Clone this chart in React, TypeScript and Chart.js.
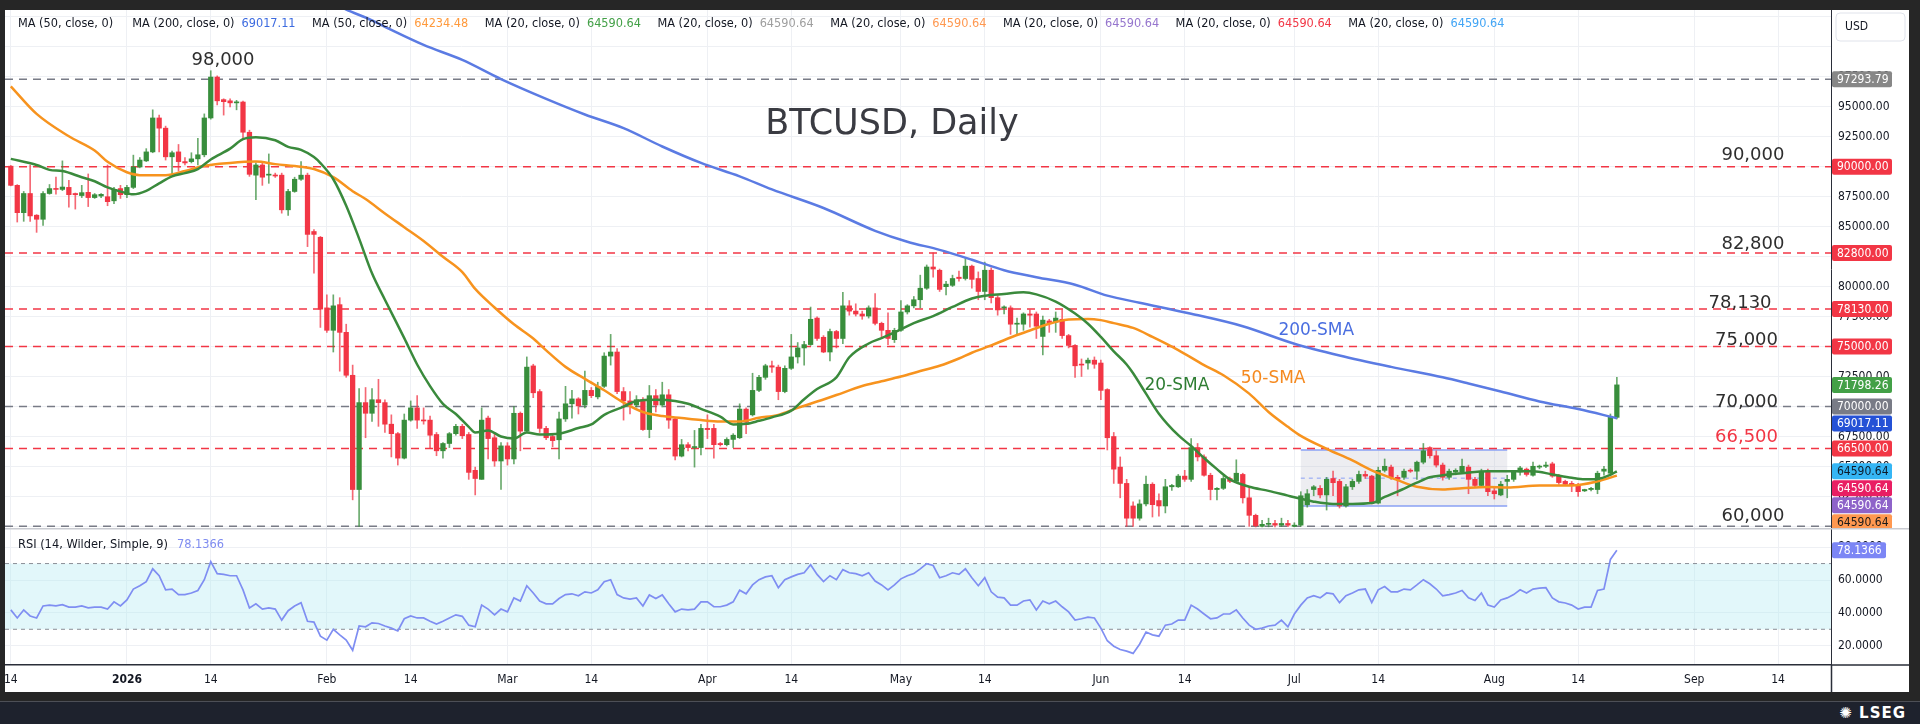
import React, { useEffect, useRef } from 'react';
import { Chart, registerables } from 'chart.js';

Chart.register(...registerables);

// Day index 0 = 1 Jan 2026; first candle is 14 Dec 2025
const FIRST_DAY = -18;

const OPEN = [
  90040, 88440, 86160, 87760, 85950, 85610, 87760, 88170, 88100, 88270,
  87760, 87590, 87860, 87420, 87550, 87490, 87150, 88170, 87660, 88270,
  89970, 90480, 91230, 94060, 93210, 90820, 91230, 90420, 90420, 90650,
  90990, 94060, 97470, 95590, 95490, 95320, 95390, 92870, 89290, 90140,
  89290, 89290, 89290, 86400, 87930, 88950, 89290, 84590, 84110, 78220,
  76350, 78490, 76180, 72600, 63070, 70320, 69430, 70560, 70320, 68520,
  67730, 65690, 68860, 69880, 68860, 68860, 67660, 66300, 66910, 67730,
  68340, 67660, 64670, 63920, 69030, 67390, 65450, 66710, 65620, 69430,
  67940, 73380, 71240, 68170, 67490, 67220, 68960, 70220, 70630, 70120,
  71340, 70800, 71680, 74200, 74540, 71240, 70460, 70120, 70560, 68070,
  70900, 70120, 70970, 68960, 65860, 66810, 66570, 66570, 68170, 68170,
  66910, 66810, 67250, 67390, 69780, 69300, 71340, 72430, 73390, 73280,
  71240, 73180, 74130, 74880, 75160, 77370, 75770, 74540, 76250, 75670,
  78390, 77950, 77710, 77540, 78220, 76930, 76350, 75570, 76350, 77880,
  78390, 78900, 79860, 81630, 81360, 79990, 80100, 80780, 80670, 81700,
  80670, 79590, 81360, 79070, 78220, 78220, 76860, 76860, 77710, 77710,
  75840, 77130, 77030, 77270, 75910, 75090, 73520, 73620, 73860, 73620,
  71410, 67490, 64940, 63580, 61700, 60680, 61870, 63510, 62150, 61700,
  63300, 63300, 64190, 63920, 66570, 65790, 64260, 63070, 63170, 63990,
  63750, 64330, 62380, 60920, 60000, 60170, 60240, 60100, 60240, 60000,
  60100, 61800, 63070, 63170, 62620, 63990, 63750, 61700, 63300, 63750,
  64330, 64190, 61940, 64670, 64940, 64090, 64090, 64670, 64600, 65350,
  66570, 65890, 65110, 64090, 64530, 64530, 64940, 63920, 63410, 64600,
  62960, 62620, 63750, 63920, 64530, 64770, 64260, 64940, 65010, 65210,
  64190, 63750, 63580, 63410, 62960, 63070, 63070, 64600, 64430, 69090,
];

const HIGH = [
  90100, 88500, 87930, 90140, 86000, 87930, 88510, 89120, 90480, 88850,
  87800, 88440, 89390, 87760, 87760, 90140, 88270, 88440, 88440, 90960,
  90760, 91500, 94740, 94300, 93380, 91300, 91850, 90760, 91160, 92360,
  94400, 98000, 97570, 95660, 95660, 95530, 95460, 93040, 90310, 90310,
  91060, 89460, 89460, 88100, 89120, 90420, 89460, 84760, 84180, 79310,
  79310, 79070, 76860, 73450, 71480, 71580, 71480, 72260, 70560, 69300,
  67830, 69370, 70460, 70900, 69880, 69200, 67830, 66980, 67830, 68510,
  68510, 67830, 64940, 69880, 69200, 67830, 66980, 66980, 69980, 69540,
  74130, 73520, 71410, 68340, 67660, 69540, 71680, 71340, 70730, 72940,
  71580, 72020, 74480, 76010, 74820, 71580, 71240, 70900, 70730, 71750,
  71410, 72020, 71410, 69030, 67250, 66980, 68000, 68510, 69300, 68510,
  67000, 67390, 67730, 70220, 69880, 72770, 72600, 73520, 73790, 73450,
  73390, 76010, 75330, 75430, 78290, 77470, 75910, 76450, 76350, 79520,
  78830, 78560, 77950, 78390, 79410, 77030, 77810, 76520, 78830, 78490,
  79170, 80950, 81800, 82820, 81460, 80440, 80950, 81290, 82380, 81800,
  81220, 82040, 81560, 79240, 78390, 78390, 77370, 77810, 78050, 77880,
  77540, 77270, 77880, 78050, 76010, 75160, 73960, 74030, 74130, 73860,
  71480, 67830, 65790, 63920, 62040, 62210, 64190, 63640, 62720, 63920,
  63500, 64330, 64670, 67320, 66910, 65960, 64430, 63240, 64190, 64100,
  65550, 64430, 63240, 61020, 60510, 60680, 60500, 60680, 60500, 60300,
  62890, 63070, 63410, 63410, 64090, 64600, 63920, 63510, 63920, 64600,
  64600, 64260, 64940, 65620, 65110, 64260, 64770, 64800, 65450, 66910,
  66640, 66300, 65280, 64770, 64800, 65620, 65110, 64090, 64770, 64770,
  63240, 63750, 64260, 64670, 65010, 64870, 65350, 65110, 65350, 65350,
  64330, 63850, 63750, 63580, 63100, 63250, 64600, 65010, 69370, 72430,
];

const LOW = [
  88400, 85380, 85440, 85440, 84520, 85100, 87700, 87700, 88000, 86630,
  86460, 87420, 86670, 87350, 87420, 86740, 86910, 87350, 87420, 88170,
  89900, 90420, 91160, 91230, 90550, 89390, 89630, 90140, 90310, 90140,
  90820, 93960, 95150, 94300, 94980, 94740, 92250, 89190, 87250, 88440,
  88610, 89100, 86120, 85940, 87860, 88850, 83330, 81120, 76590, 76180,
  74540, 72940, 72430, 62210, 60000, 67390, 68750, 68340, 67830, 65790,
  65110, 65620, 68770, 68170, 68520, 66570, 65890, 65690, 66570, 67600,
  67320, 63920, 62620, 63920, 65620, 65010, 63070, 65110, 65210, 66300,
  67830, 70730, 67830, 67220, 66640, 65620, 68750, 69030, 69370, 69880,
  70730, 70630, 71580, 73450, 71070, 68860, 69370, 69950, 68000, 67390,
  69540, 69950, 68170, 65550, 65790, 66300, 64940, 65960, 67320, 65690,
  66700, 66710, 66570, 67320, 67730, 69200, 71240, 72260, 72840, 70560,
  71140, 73080, 73620, 73450, 75090, 75500, 74480, 73790, 74880, 75230,
  77610, 77540, 77270, 77370, 76790, 75770, 75160, 75330, 76250, 77710,
  78220, 78220, 79760, 80780, 79590, 79310, 80000, 80440, 80540, 79860,
  78900, 78900, 78630, 77610, 77710, 76010, 76060, 76350, 76620, 75670,
  74300, 76180, 76180, 75670, 74880, 72430, 72500, 73110, 73180, 70560,
  66370, 63580, 62380, 60000, 60000, 60510, 61700, 60780, 60850, 61120,
  63000, 63240, 63750, 63750, 65450, 64190, 62210, 62210, 63070, 63650,
  63650, 61940, 60000, 59950, 59950, 59960, 59960, 59980, 59980, 59960,
  60000, 61600, 62550, 62380, 61360, 62550, 61530, 61600, 63070, 63580,
  64000, 61870, 61870, 64530, 63920, 62550, 63920, 64500, 63920, 65210,
  65690, 64940, 63850, 63920, 64300, 64430, 62720, 63240, 63240, 62550,
  62280, 62550, 62380, 63750, 64260, 64190, 64190, 64800, 64900, 64090,
  63510, 63400, 62890, 62490, 62900, 62950, 62720, 64260, 64330, 68960,
];

const CLOSE = [
  88440, 86160, 87760, 85890, 85610, 87760, 88170, 88100, 88300, 87660,
  87660, 87830, 87420, 87660, 87690, 87080, 88100, 87660, 88270, 89970,
  90550, 91230, 94060, 93210, 90820, 91160, 90420, 90310, 90650, 90990,
  94060, 97470, 95490, 95420, 95320, 95390, 92870, 89360, 90140, 89120,
  89360, 89220, 86400, 87930, 88950, 89290, 84350, 84350, 78120, 76350,
  78390, 76180, 72600, 63070, 70320, 69430, 70560, 70320, 68520, 67730,
  65690, 68860, 69880, 68860, 68790, 67600, 66300, 66910, 67730, 68340,
  67560, 64500, 63990, 68860, 67320, 65450, 66710, 65620, 69430, 67940,
  73280, 71140, 68170, 67390, 67150, 68960, 70220, 70630, 70050, 71340,
  70900, 71680, 74200, 74540, 71240, 70460, 70120, 70560, 68070, 70900,
  70120, 70970, 68860, 65860, 66810, 66570, 66640, 68170, 68070, 66810,
  66810, 67250, 67600, 69780, 68690, 71340, 72430, 73390, 73280, 71240,
  73180, 74130, 74880, 75160, 77270, 75670, 74540, 76250, 75670, 78390,
  77950, 77710, 77540, 78220, 76930, 76350, 75670, 76350, 77880, 78390,
  78900, 79860, 81630, 81460, 79760, 80200, 80670, 80670, 81700, 80600,
  79590, 81360, 79070, 78050, 78290, 76860, 76930, 77710, 77610, 76690,
  77200, 76930, 77370, 75910, 75090, 73390, 73450, 73860, 73520, 71340,
  67390, 64770, 63580, 60680, 60680, 61870, 63510, 61810, 61700, 63300,
  63410, 64190, 63920, 66570, 65790, 64260, 63070, 63170, 63990, 63750,
  64430, 62380, 60920, 60050, 60170, 60240, 60100, 60240, 60100, 60100,
  62550, 62720, 63300, 62620, 63920, 63640, 61700, 63300, 63750, 64330,
  64190, 61940, 64670, 65010, 64090, 63920, 64600, 64600, 65350, 66300,
  65890, 65110, 64090, 64600, 64670, 65010, 63920, 63410, 64530, 62890,
  62720, 63510, 63920, 64530, 64870, 64330, 65010, 65010, 65110, 64190,
  63650, 63510, 63410, 62890, 63070, 63170, 64430, 64770, 69090, 71798.26,
];

const RSI = [
  41.8, 36.9, 41.8, 38.1, 36.9, 44.2, 44.7, 44.2, 45.0, 43.5,
  43.5, 44.2, 43.0, 43.5, 43.5, 42.3, 46.7, 44.2, 47.9, 54.5,
  56.5, 59.0, 66.8, 62.6, 54.0, 54.5, 51.1, 51.1, 52.1, 53.6,
  60.2, 71.2, 63.9, 63.4, 62.6, 62.6, 54.0, 43.0, 45.5, 42.3,
  43.0, 42.3, 35.6, 41.3, 44.2, 46.2, 34.9, 34.4, 25.8, 23.4,
  30.0, 26.6, 23.4, 17.2, 32.0, 31.5, 33.9, 33.5, 32.0, 30.7,
  29.0, 36.4, 38.1, 36.9, 36.9, 34.9, 33.2, 34.9, 36.9, 38.8,
  37.9, 32.5, 31.5, 44.7, 42.3, 38.8, 42.3, 40.6, 49.1, 47.2,
  56.5, 52.1, 47.2, 45.5, 45.5, 48.7, 51.1, 51.6, 50.4, 52.8,
  52.1, 54.0, 59.0, 60.2, 51.1, 49.1, 48.4, 49.1, 44.2, 50.9,
  48.7, 50.9, 45.5, 40.6, 42.3, 41.8, 42.3, 46.7, 46.7, 43.7,
  43.7, 44.7, 46.7, 53.8, 51.6, 57.0, 60.2, 61.9, 62.6, 55.3,
  60.2, 61.9, 63.4, 64.4, 69.3, 63.4, 59.0, 62.6, 60.2, 66.3,
  64.4, 63.9, 62.6, 64.4, 59.4, 57.0, 54.0, 57.0, 60.7, 62.6,
  63.9, 66.8, 70.0, 68.8, 61.4, 62.6, 64.4, 63.4, 66.8, 61.4,
  56.5, 61.4, 52.8, 49.6, 49.1, 44.7, 44.7, 47.2, 47.9, 41.8,
  47.2, 45.5, 47.2, 43.7, 40.6, 35.6, 36.4, 37.4, 36.9, 30.7,
  23.0, 19.7, 17.7, 16.7, 15.3, 20.9, 28.3, 26.6, 25.8, 32.5,
  33.2, 35.6, 35.6, 44.7, 42.3, 39.3, 36.4, 36.9, 39.3, 39.3,
  41.8, 36.9, 32.5, 30.0, 30.7, 32.0, 32.5, 35.6, 31.5, 39.3,
  44.7, 49.1, 50.4, 49.1, 52.1, 51.6, 46.2, 50.4, 52.1, 54.0,
  54.5, 46.2, 54.0, 56.0, 52.8, 52.8, 54.5, 54.0, 57.0, 60.2,
  57.7, 54.5, 50.4, 51.1, 52.1, 53.6, 49.1, 47.5, 52.1, 44.8,
  43.5, 47.9, 49.1, 51.1, 54.0, 52.1, 54.5, 55.0, 55.3, 49.1,
  46.7, 46.0, 44.7, 42.3, 43.5, 43.5, 53.6, 54.5, 72.5, 78.1366,
];

// Moving averages at sample days
const MA20_DAYS = [-18, -14, -12, -10, -7, -5, -3, -1, 1, 3, 5, 7, 9, 11, 13, 16, 18, 20, 23, 25, 27, 29, 30, 32, 34, 36, 38, 40, 43, 45, 47, 49, 51, 53, 54, 56, 58, 60, 62, 64, 67, 70, 72, 74, 77, 79, 82, 85, 87, 89, 92, 94, 96, 98, 100, 103, 105, 107, 110, 112, 115, 117, 119, 122, 125, 128, 131, 133, 136, 139, 141, 144, 147, 149, 151, 153, 155, 156, 158, 160, 163, 165, 167, 169, 171, 174, 177, 180, 182, 184, 187, 190, 193, 195, 197, 200, 202, 204, 207, 211, 214, 218, 221, 224, 226, 228, 230, 231];
const MA20 = [90650, 90140, 89730, 89630, 89120, 88780, 88270, 87930, 87690, 87980, 88610, 89190, 89460, 89800, 90600, 91500, 92300, 92460, 92200, 91650, 91400, 90800, 90300, 88950, 86740, 84000, 81100, 78900, 75700, 73500, 71700, 70220, 69370, 68300, 67830, 68000, 67490, 67320, 67830, 67660, 67730, 68200, 68500, 69300, 69980, 70460, 70560, 70460, 70220, 69800, 69150, 68500, 68550, 68800, 69090, 69650, 70600, 71450, 72430, 74100, 75250, 75700, 76180, 76950, 77540, 78300, 79000, 79240, 79380, 79520, 79350, 78750, 77750, 76900, 75800, 74600, 73500, 72770, 71070, 69400, 67600, 66700, 65700, 64770, 63920, 63300, 62960, 62560, 62300, 62060, 61870, 61870, 61940, 62450, 62900, 63640, 64090, 64260, 64430, 64600, 64600, 64600, 64330, 64050, 63920, 63950, 64300, 64590.64];

const MA50_DAYS = [-18, -14, -9, -5, -3, 0, 2, 6, 9, 12, 16, 20, 23, 27, 29, 32, 35, 37, 40, 43, 46, 49, 52, 54, 57, 60, 63, 65, 68, 71, 74, 77, 80, 83, 86, 89, 92, 95, 98, 101, 104, 108, 110, 114, 117, 120, 123, 126, 129, 131, 134, 137, 140, 143, 146, 149, 151, 153, 156, 159, 163, 167, 170, 174, 177, 180, 182, 186, 190, 193, 197, 200, 204, 207, 211, 214, 219, 224, 228, 231];
const MA50 = [96700, 94400, 92530, 91340, 90400, 89530, 89290, 89290, 89630, 90070, 90310, 90420, 90210, 90000, 89800, 89120, 87950, 87300, 86100, 84950, 83800, 82480, 81200, 79800, 78250, 76850, 75670, 74680, 73300, 72300, 71350, 70320, 69540, 69200, 69030, 68860, 68750, 68750, 69050, 69300, 69880, 70580, 70950, 71700, 72100, 72500, 72950, 73390, 74000, 74480, 75090, 75750, 76330, 76900, 77250, 77300, 77200, 76950, 76550, 75800, 74700, 73450, 72600, 71070, 69540, 68300, 67550, 66470, 65500, 64670, 63850, 63300, 63070, 63170, 63280, 63240, 63410, 63410, 63750, 64234.48];

const MA200_DAYS = [30, 34, 38, 41, 46, 52, 58, 65, 71, 77, 83, 89, 95, 100, 108, 116, 121, 126, 131, 136, 141, 147, 152, 157, 165, 173, 181, 188, 196, 204, 208, 213, 219, 225, 231];
const MA200 = [104100, 103100, 102200, 101400, 100150, 98900, 97300, 95650, 94350, 93210, 91680, 90310, 89190, 88100, 86550, 84650, 83740, 83060, 82240, 81360, 80780, 80150, 79240, 78650, 77730, 76690, 75230, 74250, 73300, 72430, 71920, 71250, 70420, 69780, 69017.11];

// Horizontal levels
const LEVELS = [97293.79, 90000, 82800, 78130, 75000, 70000, 66500, 60000];
const LEVEL_KINDS = ['gray', 'red', 'red', 'red', 'red', 'gray', 'red', 'gray'];

// Consolidation box (days and prices)
const BOX_DAYS = [182, 214];
const BOX_PRICES = [66370, 61700];
const BOX_MID = 64020;

// X-axis ticks
const TICK_DAYS = [-18, 0, 13, 31, 44, 59, 72, 90, 103, 120, 133, 151, 164, 181, 194, 212, 225, 243, 256];
const TICK_LABELS = ['14', '2026', '14', 'Feb', '14', 'Mar', '14', 'Apr', '14', 'May', '14', 'Jun', '14', 'Jul', '14', 'Aug', '14', 'Sep', '14'];
const PRICE_TICKS = [60000, 62500, 65000, 67500, 70000, 72500, 75000, 77500, 80000, 82500, 85000, 87500, 90000, 92500, 95000, 97500, 100000, 102500];
const RSI_TICKS = [20, 40, 60, 80];

// Text annotations on the price pane
const ANNOTATIONS = [
  { text: '98,000', day: 14.9, price: 98840, color: '#2e2e2e', size: 18 },
  { text: '90,000', day: 252.1, price: 90930, color: '#2e2e2e', size: 18 },
  { text: '82,800', day: 252.1, price: 83490, color: '#2e2e2e', size: 18 },
  { text: '78,130', day: 250.1, price: 78580, color: '#2e2e2e', size: 18 },
  { text: '75,000', day: 251.1, price: 75500, color: '#2e2e2e', size: 18 },
  { text: '70,000', day: 251.1, price: 70360, color: '#2e2e2e', size: 18 },
  { text: '66,500', day: 251.1, price: 67440, color: '#f23645', size: 18 },
  { text: '60,000', day: 252.1, price: 60830, color: '#2e2e2e', size: 18 },
  { text: '200-SMA', day: 184.4, price: 76320, color: '#4a6ee0', size: 17 },
  { text: '50-SMA', day: 177.7, price: 72310, color: '#f5891f', size: 17 },
  { text: '20-SMA', day: 162.8, price: 71720, color: '#2e7d32', size: 17 },
];

const LEGEND = [
  { label: 'MA (50, close, 0)', value: '', color: '#131722' },
  { label: 'MA (200, close, 0)', value: '69017.11', color: '#3d6be0' },
  { label: 'MA (50, close, 0)', value: '64234.48', color: '#ff9a3c' },
  { label: 'MA (20, close, 0)', value: '64590.64', color: '#43a047' },
  { label: 'MA (20, close, 0)', value: '64590.64', color: '#9e9e9e' },
  { label: 'MA (20, close, 0)', value: '64590.64', color: '#ff9850' },
  { label: 'MA (20, close, 0)', value: '64590.64', color: '#9575cd' },
  { label: 'MA (20, close, 0)', value: '64590.64', color: '#f23645' },
  { label: 'MA (20, close, 0)', value: '64590.64', color: '#42a5f5' },
];

const PRICE_LABELS = [
  { value: 97293.79, text: '97293.79', bg: '#878787', fg: '#ffffff' },
  { value: 90000, text: '90000.00', bg: '#f23645', fg: '#ffffff' },
  { value: 82800, text: '82800.00', bg: '#f23645', fg: '#ffffff' },
  { value: 78130, text: '78130.00', bg: '#f23645', fg: '#ffffff' },
  { value: 75000, text: '75000.00', bg: '#f23645', fg: '#ffffff' },
  { value: 71798.26, text: '71798.26', bg: '#43a047', fg: '#ffffff' },
  { value: 70000, text: '70000.00', bg: '#787b86', fg: '#ffffff' },
  { value: 69017.11, text: '69017.11', bg: '#2451d6', fg: '#ffffff' },
  { value: 66500, text: '66500.00', bg: '#f23645', fg: '#ffffff' },
  { value: 64590.64, text: '64590.64', bg: '#35b6f5', fg: '#0d1b2a' },
  { value: 64590.64, text: '64590.64', bg: '#e91e63', fg: '#ffffff' },
  { value: 64590.64, text: '64590.64', bg: '#8e63c9', fg: '#ffffff' },
  { value: 64590.64, text: '64590.64', bg: '#ff9850', fg: '#1a1a1a' },
];

const RSI_LAST = 78.1366;

const X_MIN = -18.9;
const X_MAX = 264.2;
const PRICE_MIN = 59862;
const PRICE_MAX = 103065;
const RSI_MIN = 8.25;
const RSI_MAX = 91.66;

const GREEN = '#388e3c';
const RED = '#f23645';
const SMALL_FONT = '"DejaVu Sans Condensed", "Liberation Sans Narrow", "DejaVu Sans", sans-serif';
const BIG_FONT = '"DejaVu Sans", Verdana, sans-serif';
const GRID = '#eef0f4';
const AXIS = '#2a2e39';

const fixPadding = (s: any) => {
  s.paddingLeft = 0;
  s.paddingRight = 0;
  s.paddingTop = 0;
  s.paddingBottom = 0;
};

function roundRect(ctx: CanvasRenderingContext2D, x: number, y: number, w: number, h: number, r: number) {
  ctx.beginPath();
  ctx.moveTo(x + r, y);
  ctx.lineTo(x + w - r, y);
  ctx.quadraticCurveTo(x + w, y, x + w, y + r);
  ctx.lineTo(x + w, y + h - r);
  ctx.quadraticCurveTo(x + w, y + h, x + w - r, y + h);
  ctx.lineTo(x + r, y + h);
  ctx.quadraticCurveTo(x, y + h, x, y + h - r);
  ctx.lineTo(x, y + r);
  ctx.quadraticCurveTo(x, y, x + r, y);
  ctx.closePath();
}

const pricePlugin = {
  id: 'priceOverlays',
  beforeDatasetsDraw(chart: any) {
    const { ctx, scales } = chart;
    const x = scales.x;
    const y = scales.y;
    const x0 = x.getPixelForValue(BOX_DAYS[0]);
    const x1 = x.getPixelForValue(BOX_DAYS[1]);
    const yt = y.getPixelForValue(BOX_PRICES[0]);
    const yb = y.getPixelForValue(BOX_PRICES[1]);
    const ym = y.getPixelForValue(BOX_MID);
    ctx.save();
    ctx.fillStyle = 'rgba(190,192,204,0.28)';
    ctx.fillRect(x0, yt, x1 - x0, yb - yt);
    ctx.strokeStyle = '#8ba1f5';
    ctx.lineWidth = 1.5;
    ctx.beginPath();
    ctx.moveTo(x0, yt);
    ctx.lineTo(x1, yt);
    ctx.moveTo(x0, yb);
    ctx.lineTo(x1, yb);
    ctx.stroke();
    ctx.setLineDash([4, 4]);
    ctx.lineWidth = 1;
    ctx.beginPath();
    ctx.moveTo(x0, ym);
    ctx.lineTo(x1, ym);
    ctx.stroke();
    ctx.restore();
  },
  afterDatasetsDraw(chart: any) {
    const { ctx, scales } = chart;
    const x = scales.x;
    const y = scales.y;
    ctx.save();
    ctx.textAlign = 'center';
    ctx.textBaseline = 'middle';
    for (const a of ANNOTATIONS) {
      ctx.font = `${a.size}px ${BIG_FONT}`;
      ctx.fillStyle = a.color;
      ctx.fillText(a.text, x.getPixelForValue(a.day), y.getPixelForValue(a.price));
    }
    // title
    ctx.font = `35px ${BIG_FONT}`;
    ctx.fillStyle = '#3a3b42';
    ctx.fillText('BTCUSD, Daily', 887, 115);
    // legend
    ctx.textAlign = 'left';
    ctx.font = `12.6px ${SMALL_FONT}`;
    let cx = 13;
    for (const item of LEGEND) {
      ctx.fillStyle = '#131722';
      ctx.fillText(item.label, cx, 14);
      cx += ctx.measureText(item.label).width;
      if (item.value) {
        cx += 7;
        ctx.fillStyle = item.color;
        ctx.fillText(item.value, cx, 14);
        cx += ctx.measureText(item.value).width;
        cx += 16.5;
      } else {
        cx += 19;
      }
    }
    ctx.restore();
  },
  afterDraw(chart: any) {
    const { ctx, scales, chartArea, width } = chart;
    const y = scales.y;
    const H = 16;
    let lastBottom = -Infinity;
    ctx.save();
    ctx.font = `12px ${SMALL_FONT}`;
    ctx.textBaseline = 'middle';
    ctx.textAlign = 'left';
    for (const l of PRICE_LABELS) {
      const yc = y.getPixelForValue(l.value);
      let top = yc - H / 2;
      if (top < lastBottom + 1) top = lastBottom + 1;
      lastBottom = top + H;
      ctx.fillStyle = l.bg;
      roundRect(ctx, chartArea.right + 1, top, 60, H, 2);
      ctx.fill();
      ctx.fillStyle = l.fg;
      ctx.fillText(l.text, chartArea.right + 6, top + H / 2 + 0.5);
    }
    // USD box
    ctx.fillStyle = '#ffffff';
    roundRect(ctx, chartArea.right + 5, 3, width - chartArea.right - 9, 28, 4);
    ctx.fill();
    ctx.strokeStyle = '#e0e3eb';
    ctx.lineWidth = 1;
    ctx.stroke();
    ctx.fillStyle = '#131722';
    ctx.fillText('USD', chartArea.right + 14, 17);
    ctx.restore();
  },
};

const rsiPlugin = {
  id: 'rsiOverlays',
  beforeDatasetsDraw(chart: any) {
    const { ctx, scales, chartArea } = chart;
    const y = scales.y;
    const y70 = y.getPixelForValue(70);
    const y30 = y.getPixelForValue(30);
    ctx.save();
    ctx.fillStyle = 'rgba(178,235,242,0.38)';
    ctx.fillRect(chartArea.left, y70, chartArea.right - chartArea.left, y30 - y70);
    ctx.strokeStyle = '#8a8d96';
    ctx.lineWidth = 1;
    ctx.setLineDash([4, 4]);
    ctx.beginPath();
    ctx.moveTo(chartArea.left, y70);
    ctx.lineTo(chartArea.right, y70);
    ctx.moveTo(chartArea.left, y30);
    ctx.lineTo(chartArea.right, y30);
    ctx.stroke();
    ctx.restore();
  },
  afterDraw(chart: any) {
    const { ctx, scales, chartArea, width, height } = chart;
    const y = scales.y;
    ctx.save();
    // separators
    ctx.strokeStyle = '#c9cbd1';
    ctx.lineWidth = 1.5;
    ctx.beginPath();
    ctx.moveTo(0, 0.75);
    ctx.lineTo(width, 0.75);
    ctx.stroke();
    ctx.strokeStyle = AXIS;
    ctx.lineWidth = 1.5;
    ctx.beginPath();
    ctx.moveTo(chartArea.right, chartArea.bottom);
    ctx.lineTo(width, chartArea.bottom);
    ctx.moveTo(chartArea.right + 0.5, chartArea.bottom);
    ctx.lineTo(chartArea.right + 0.5, height);
    ctx.stroke();
    // legend
    ctx.font = `12.7px ${SMALL_FONT}`;
    ctx.textBaseline = 'middle';
    ctx.textAlign = 'left';
    ctx.fillStyle = '#131722';
    const lbl = 'RSI (14, Wilder, Simple, 9)';
    ctx.fillText(lbl, 13, 17);
    ctx.fillStyle = '#7f8cf0';
    ctx.fillText(RSI_LAST.toFixed(4), 13 + ctx.measureText(lbl).width + 9, 17);
    // last value label
    const yc = y.getPixelForValue(RSI_LAST);
    ctx.font = `12px ${SMALL_FONT}`;
    ctx.fillStyle = '#7c86f5';
    roundRect(ctx, chartArea.right + 1, yc - 8, 54, 16, 2);
    ctx.fill();
    ctx.fillStyle = '#ffffff';
    ctx.fillText(RSI_LAST.toFixed(4), chartArea.right + 6, yc + 0.5);
    ctx.restore();
  },
};

function priceConfig(): any {
  const days = OPEN.map((_, i) => FIRST_DAY + i);
  const up = (i: number) => CLOSE[i] >= OPEN[i];
  const levelSets = LEVELS.map((lv, k) => ({
    type: 'line',
    data: [{ x: X_MIN, y: lv }, { x: X_MAX, y: lv }],
    borderColor: LEVEL_KINDS[k] === 'red' ? RED : '#787b86',
    borderWidth: 1.5,
    borderDash: [8, 6],
    pointRadius: 0,
    order: 20,
  }));
  const lineSet = (xs: number[], ys: number[], color: string, order: number) => ({
    type: 'line',
    data: xs.map((d, i) => ({ x: d, y: ys[i] })),
    borderColor: color,
    borderWidth: 2.5,
    pointRadius: 0,
    tension: 0.4,
    cubicInterpolationMode: 'monotone',
    order,
  });
  return {
    type: 'bar',
    data: {
      datasets: [
        ...levelSets,
        {
          type: 'bar',
          data: days.map((d, i) => ({
            x: d,
            y: [Math.min(LOW[i], OPEN[i], CLOSE[i]), Math.max(HIGH[i], OPEN[i], CLOSE[i])],
          })),
          backgroundColor: days.map((_, i) => (up(i) ? 'rgba(56,142,60,0.75)' : 'rgba(242,54,69,0.75)')),
          barThickness: 1,
          grouped: false,
          order: 10,
        },
        {
          type: 'bar',
          data: days.map((d, i) => ({ x: d, y: [OPEN[i], CLOSE[i]] })),
          backgroundColor: days.map((_, i) => (up(i) ? GREEN : RED)),
          barThickness: 4.6,
          minBarLength: 1,
          grouped: false,
          order: 9,
        },
        lineSet(MA200_DAYS, MA200, '#5b7be3', 3),
        lineSet(MA50_DAYS, MA50, '#f7931e', 2),
        lineSet(MA20_DAYS, MA20, '#3a8a3c', 1),
      ],
    },
    options: {
      responsive: false,
      maintainAspectRatio: false,
      animation: false,
      events: [],
      layout: { padding: 0 },
      plugins: { legend: { display: false }, tooltip: { enabled: false }, title: { display: false } },
      scales: {
        x: {
          type: 'linear',
          min: X_MIN,
          max: X_MAX,
          offset: false,
          afterBuildTicks: (s: any) => {
            s.ticks = TICK_DAYS.map((v) => ({ value: v }));
          },
          ticks: { display: false },
          grid: { color: GRID, drawTicks: false, offset: false },
          border: { display: false },
          afterFit: (s: any) => {
            s.height = 0;
            fixPadding(s);
          },
        },
        y: {
          type: 'linear',
          position: 'right',
          min: PRICE_MIN,
          max: PRICE_MAX,
          afterBuildTicks: (s: any) => {
            s.ticks = PRICE_TICKS.map((v) => ({ value: v }));
          },
          ticks: {
            callback: (v: any) => (Number(v) >= 100000 ? '' : Number(v).toFixed(2)),
            color: '#131722',
            font: { family: SMALL_FONT, size: 12 },
            padding: 7,
          },
          grid: { color: GRID, drawTicks: false },
          border: { color: AXIS, width: 1 },
          afterFit: (s: any) => {
            s.width = 78;
            fixPadding(s);
          },
        },
      },
    },
    plugins: [pricePlugin],
  };
}

function rsiConfig(): any {
  const days = RSI.map((_, i) => FIRST_DAY + i);
  const boldIndex = TICK_LABELS.indexOf('2026');
  return {
    type: 'line',
    data: {
      datasets: [
        {
          data: days.map((d, i) => ({ x: d, y: RSI[i] })),
          borderColor: '#7f8ef2',
          borderWidth: 1.7,
          pointRadius: 0,
          tension: 0,
        },
      ],
    },
    options: {
      responsive: false,
      maintainAspectRatio: false,
      animation: false,
      events: [],
      layout: { padding: 0 },
      plugins: { legend: { display: false }, tooltip: { enabled: false } },
      scales: {
        x: {
          type: 'linear',
          min: X_MIN,
          max: X_MAX,
          offset: false,
          afterBuildTicks: (s: any) => {
            s.ticks = TICK_DAYS.map((v) => ({ value: v }));
          },
          ticks: {
            callback: (_v: any, i: number) => TICK_LABELS[i],
            autoSkip: false,
            maxRotation: 0,
            minRotation: 0,
            color: '#131722',
            padding: 8,
            font: (c: any) => ({ family: SMALL_FONT, size: 12, weight: c.index === boldIndex ? 'bold' : 'normal' }),
          },
          grid: { color: GRID, drawTicks: false },
          border: { color: AXIS, width: 1.5 },
          afterFit: (s: any) => {
            s.height = 27;
            fixPadding(s);
          },
        },
        y: {
          type: 'linear',
          position: 'right',
          min: RSI_MIN,
          max: RSI_MAX,
          afterBuildTicks: (s: any) => {
            s.ticks = RSI_TICKS.map((v) => ({ value: v }));
          },
          ticks: {
            callback: (v: any) => Number(v).toFixed(4),
            color: '#131722',
            font: { family: SMALL_FONT, size: 12 },
            padding: 7,
          },
          grid: { color: GRID, drawTicks: false },
          border: { color: AXIS, width: 1 },
          afterFit: (s: any) => {
            s.width = 78;
            fixPadding(s);
          },
        },
      },
    },
    plugins: [rsiPlugin],
  };
}

export default function App() {
  const priceRef = useRef<HTMLCanvasElement>(null);
  const rsiRef = useRef<HTMLCanvasElement>(null);

  useEffect(() => {
    const pc = new Chart(priceRef.current as HTMLCanvasElement, priceConfig());
    const rc = new Chart(rsiRef.current as HTMLCanvasElement, rsiConfig());
    return () => {
      pc.destroy();
      rc.destroy();
    };
  }, []);

  return (
    <div
      style={{
        position: 'fixed',
        left: 0,
        top: 0,
        width: 1920,
        height: 724,
        background: '#262626',
        overflow: 'hidden',
      }}
    >
      <div style={{ position: 'absolute', left: 5, top: 10, width: 1904, height: 682, background: '#ffffff' }} />
      <canvas
        ref={priceRef}
        width={1904}
        height={518}
        style={{ position: 'absolute', left: 5, top: 10, width: 1904, height: 518 }}
      />
      <canvas
        ref={rsiRef}
        width={1904}
        height={164}
        style={{ position: 'absolute', left: 5, top: 528, width: 1904, height: 164 }}
      />
      <div
        style={{
          position: 'absolute',
          left: 0,
          top: 701,
          width: 1920,
          height: 23,
          background: '#1e222d',
          borderTop: '1px solid #4d4f56',
        }}
      >
        <span
          style={{
            position: 'absolute',
            right: 14,
            top: 2,
            color: '#ffffff',
            font: 'bold 15px "DejaVu Sans", sans-serif',
            letterSpacing: 1,
          }}
        >
          ✺ LSEG
        </span>
      </div>
    </div>
  );
}
